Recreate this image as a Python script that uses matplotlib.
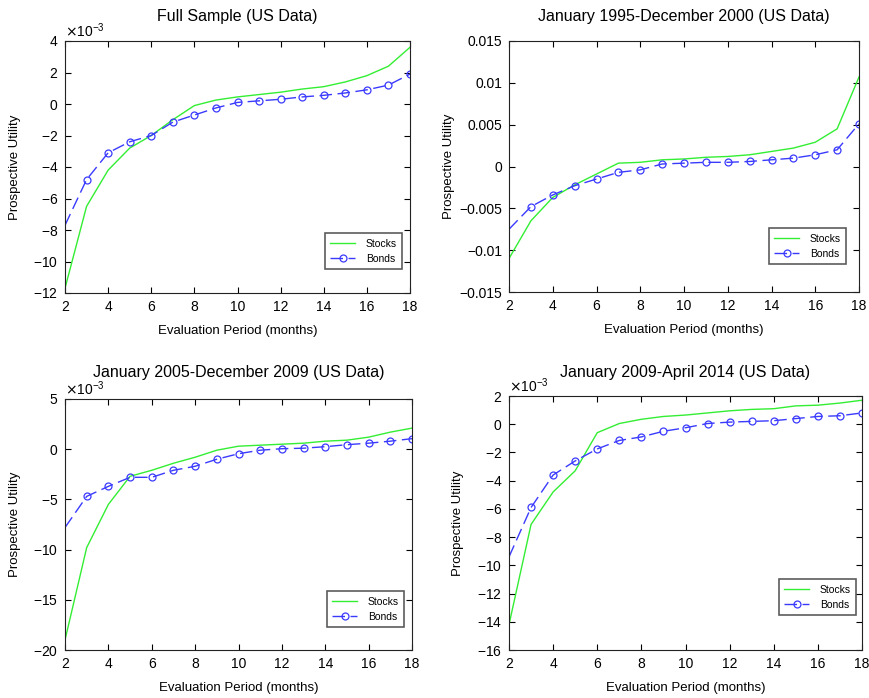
import matplotlib
matplotlib.use("Agg")
import matplotlib.pyplot as plt
from matplotlib.ticker import FuncFormatter, MultipleLocator

plt.rcParams['font.family'] = ['Liberation Sans', 'DejaVu Sans']
plt.rcParams['axes.unicode_minus'] = True

months = list(range(2, 19))

titles = ["Full Sample (US Data)",
          "January 1995-December 2000 (US Data)",
          "January 2005-December 2009 (US Data)",
          "January 2009-April 2014 (US Data)"]

stocks_full = [-11.7e-3, -6.5e-3, -4.2e-3, -2.8e-3, -2.0e-3, -1.0e-3, -0.1e-3, 0.25e-3, 0.45e-3,
               0.6e-3, 0.75e-3, 0.95e-3, 1.1e-3, 1.4e-3, 1.8e-3, 2.4e-3, 3.6e-3]
bonds_full = [-7.7e-3, -4.8e-3, -3.1e-3, -2.4e-3, -2.0e-3, -1.15e-3, -0.7e-3, -0.25e-3, 0.1e-3,
              0.2e-3, 0.3e-3, 0.45e-3, 0.55e-3, 0.7e-3, 0.9e-3, 1.2e-3, 1.9e-3]

stocks_9500 = [-0.011, -0.0065, -0.0037, -0.0022, -0.0009, 0.0004, 0.0005, 0.0008, 0.0009,
               0.0011, 0.0012, 0.0014, 0.0018, 0.0022, 0.0029, 0.0045, 0.0107]
bonds_9500 = [-0.0075, -0.0048, -0.0034, -0.0023, -0.0015, -0.0007, -0.0004, 0.0003, 0.0004,
              0.0005, 0.0005, 0.0006, 0.0008, 0.0010, 0.0014, 0.0020, 0.0051]

stocks_0509 = [-19.0e-3, -9.8e-3, -5.5e-3, -2.7e-3, -2.1e-3, -1.4e-3, -0.8e-3, -0.1e-3, 0.3e-3,
               0.4e-3, 0.5e-3, 0.6e-3, 0.8e-3, 0.9e-3, 1.2e-3, 1.7e-3, 2.1e-3]
bonds_0509 = [-7.8e-3, -4.7e-3, -3.7e-3, -2.8e-3, -2.8e-3, -2.1e-3, -1.7e-3, -1.0e-3, -0.45e-3,
              -0.1e-3, 0.05e-3, 0.1e-3, 0.25e-3, 0.45e-3, 0.6e-3, 0.8e-3, 1.05e-3]

stocks_0914 = [-14.2e-3, -7.1e-3, -4.8e-3, -3.3e-3, -0.6e-3, 0.05e-3, 0.35e-3, 0.55e-3, 0.65e-3,
               0.8e-3, 0.95e-3, 1.05e-3, 1.1e-3, 1.3e-3, 1.35e-3, 1.5e-3, 1.7e-3]
bonds_0914 = [-9.4e-3, -5.9e-3, -3.6e-3, -2.6e-3, -1.75e-3, -1.15e-3, -0.9e-3, -0.5e-3, -0.25e-3,
              0.05e-3, 0.15e-3, 0.2e-3, 0.25e-3, 0.4e-3, 0.55e-3, 0.6e-3, 0.8e-3]

stocks_all = [stocks_full, stocks_9500, stocks_0509, stocks_0914]
bonds_all = [bonds_full, bonds_9500, bonds_0509, bonds_0914]
ylims = [(-12e-3, 4e-3), (-0.015, 0.015), (-20e-3, 5e-3), (-16e-3, 2e-3)]
ysteps = [2e-3, 0.005, 5e-3, 2e-3]
sci = [True, False, True, True]

W, H = 869, 698
boxes = [(65, 41, 410, 293), (509, 41, 859, 292), (65, 399, 412, 650), (509, 396, 862, 650)]
# legend gaps (right, bottom) in px
leg_gaps = [(8, 24), (13, 28), (8, 23), (6, 35)]
title_y = [17, 17, 373, 373]
ylabel_pads = [9, 3, 9, 9]

fig = plt.figure(figsize=(W / 100, H / 100), dpi=100)

green = '#33ee33'
blue = '#3a3aff'

for i in range(4):
    l, t, r, b = boxes[i]
    ax = fig.add_axes([l / W, 1 - b / H, (r - l) / W, (b - t) / H])
    ax.plot(months, stocks_all[i], color=green, lw=1.0, label='Stocks')
    ax.plot(months, bonds_all[i], color=blue, lw=1.0, ls=(0, (9, 4)), marker='o', ms=5,
            mfc='none', mec=blue, mew=0.9, markevery=list(range(1, 17)), label='Bonds')
    ax.set_xlim(2, 18)
    ax.set_ylim(*ylims[i])
    ax.xaxis.set_major_locator(MultipleLocator(2))
    ax.yaxis.set_major_locator(MultipleLocator(ysteps[i]))
    if sci[i]:
        ax.ticklabel_format(axis='y', style='sci', scilimits=(-3, -3), useMathText=True)
        ax.yaxis.get_offset_text().set_fontsize(10)
    else:
        ax.yaxis.set_major_formatter(FuncFormatter(lambda v, p: ('%g' % round(v, 6)).replace('-', '\u2212')))
    ax.tick_params(direction='in', top=True, right=True, length=4, width=0.8, labelsize=10, pad=5)
    for s in ax.spines.values():
        s.set_linewidth(0.8)
        s.set_color('#222222')
    ax.set_title(titles[i], fontsize=11.5, pad=0, y=(b - title_y[i]) / (b - t), va='center')
    ax.set_xlabel('Evaluation Period (months)', fontsize=9.5, labelpad=8)
    ax.set_ylabel('Prospective Utility', fontsize=9.5, labelpad=ylabel_pads[i])
    gr, gb = leg_gaps[i]
    leg = ax.legend(loc='lower right', bbox_to_anchor=(1 - gr / (r - l), gb / (b - t)),
                    fontsize=7.5, frameon=True, fancybox=False,
                    edgecolor='#333333', handlelength=2.4, borderaxespad=0, borderpad=0.5,
                    labelspacing=0.5, handletextpad=1.0)
    leg.get_frame().set_linewidth(1.2)

fig.savefig('out.png', dpi=100)
